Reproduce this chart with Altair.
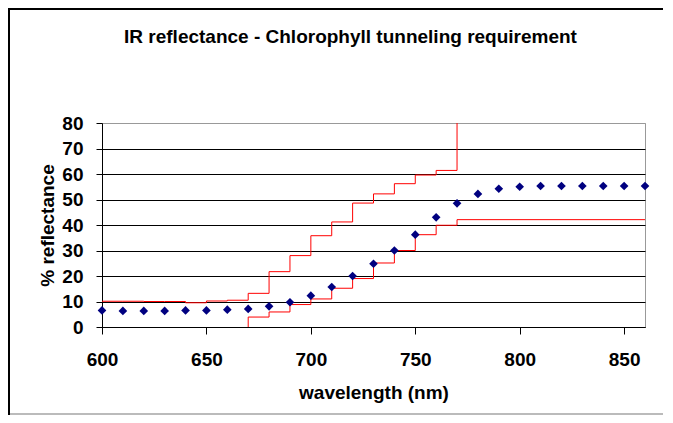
import altair as alt
import pandas as pd

# measured reflectance (diamonds)
wl_points = [600, 610, 620, 630, 640, 650, 660, 670, 680, 690, 700, 710, 720, 730,
             740, 750, 760, 770, 780, 790, 800, 810, 820, 830, 840, 850, 860]
refl_points = [6.5, 6.3, 6.3, 6.3, 6.5, 6.5, 6.8, 7.1, 8.1, 9.7, 12.3, 15.7, 20.0, 24.8,
               30.0, 36.2, 43.0, 48.5, 52.2, 54.2, 55.0, 55.3, 55.3, 55.3, 55.3, 55.3, 55.3]

# upper requirement step line
wl_upper = [600, 610, 620, 630, 640, 650, 660, 670, 680, 690, 700, 710, 720, 730, 740, 750, 760, 770]
refl_upper = [10.1, 10.1, 10.0, 10.0, 9.5, 10.2, 10.5, 13.2, 21.7, 28.0, 35.8, 41.2, 48.6, 52.2,
              56.2, 59.6, 61.4, 80.0]

# lower requirement step line
wl_lower = [670, 670, 680, 690, 700, 710, 720, 730, 740, 750, 760, 770, 860]
refl_lower = [0.0, 3.9, 5.9, 8.8, 11.0, 15.2, 19.0, 25.1, 30.0, 36.2, 39.9, 42.1, 42.1]

x_ticks = [600, 650, 700, 750, 800, 850]
y_ticks = [0, 10, 20, 30, 40, 50, 60, 70, 80]

title_text = ["IR reflectance - Chlorophyll tunneling requirement"]

FONT = "Liberation Sans"
W, H = 543, 204

pts = pd.DataFrame({"wl": wl_points, "r": refl_points})
up = pd.DataFrame({"wl": wl_upper, "r": refl_upper, "i": range(len(wl_upper)), "s": "upper"})
lo = pd.DataFrame({"wl": wl_lower, "r": refl_lower, "i": range(len(wl_lower)), "s": "lower"})
lines = pd.concat([up, lo], ignore_index=True)
one = pd.DataFrame({"t": title_text})

xscale = alt.Scale(domain=[600, 860], nice=False, zero=False)
yscale = alt.Scale(domain=[0, 80], nice=False)

xax = alt.Axis(values=x_ticks, grid=False, tickSize=7, tickColor="black", domainColor="black",
               labelFont=FONT, labelFontSize=19, labelFontWeight="bold", labelColor="black",
               labelPadding=16, labelOverlap=False,
               title="wavelength (nm)", titleFont=FONT, titleFontSize=19,
               titleFontWeight="bold", titleColor="black", titleY=71, titleBaseline="alphabetic",
               titleX=W / 2, titleAlign="center", labelFlush=False)
yax = alt.Axis(values=y_ticks, grid=True,
               gridColor={"condition": {"test": "datum.value == 80", "value": "#999999"}, "value": "black"},
               gridOpacity=1, tickSize=6, tickColor="black", domainColor="black",
               labelFont=FONT, labelFontSize=19, labelFontWeight="bold", labelColor="black",
               labelPadding=13, labelOverlap=False,
               title="% reflectance", titleFont=FONT, titleFontSize=19,
               titleFontWeight="bold", titleColor="black", titleAngle=-90, titleX=-49, titleY=H / 2,
               titleAlign="center", titleBaseline="alphabetic", labelFlush=False)

base_lines = alt.Chart(lines).mark_line(interpolate="step-after", color="#FF0000", strokeWidth=1).encode(
    x=alt.X("wl:Q", scale=xscale, axis=xax),
    y=alt.Y("r:Q", scale=yscale, axis=yax),
    detail="s:N",
    order="i:Q",
)

diamonds = alt.Chart(pts).mark_point(shape="diamond", filled=True, color="#000080", size=75, opacity=1).encode(
    x=alt.X("wl:Q", scale=xscale, axis=xax),
    y=alt.Y("r:Q", scale=yscale, axis=yax),
)

title = alt.Chart(one).mark_text(font=FONT, fontSize=19, fontWeight="bold", color="black",
                                 align="center", baseline="alphabetic").encode(
    text="t:N", x=alt.value(W / 2 - 23), y=alt.value(-80))

frame_left = alt.Chart(one).mark_rule(color="black", strokeWidth=2).encode(
    x=alt.value(-93), x2=alt.value(-93), y=alt.value(-114), y2=alt.value(H + 88))
frame_top = alt.Chart(one).mark_rule(color="black", strokeWidth=2).encode(
    x=alt.value(-94), x2=alt.value(W + 18), y=alt.value(-114), y2=alt.value(-114))
frame_bottom = alt.Chart(one).mark_rule(color="#BBBBBB", strokeWidth=2).encode(
    x=alt.value(-92), x2=alt.value(W + 18), y=alt.value(H + 87), y2=alt.value(H + 87))

chart = alt.layer(frame_left, frame_top, frame_bottom, base_lines, diamonds, title).properties(
    width=W, height=H,
    autosize=alt.AutoSizeParams(type="none"),
    padding={"left": 94, "top": 115, "right": 18, "bottom": 88},
    background="white",
).configure_view(stroke="#999999", strokeWidth=1)

chart.save("out.html", embed_options={"renderer": "svg", "actions": False})
